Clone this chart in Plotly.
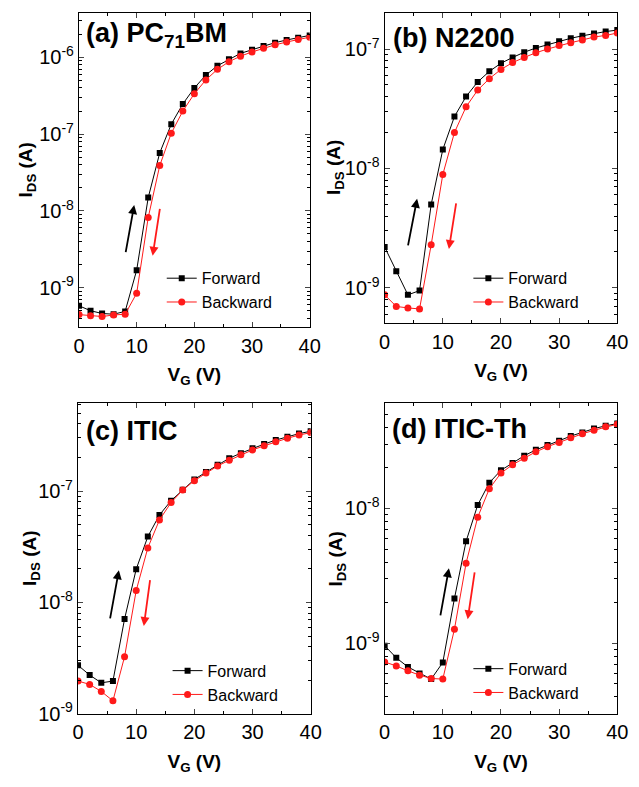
import plotly.graph_objects as go

VG = [0, 2, 4, 6, 8, 10, 12, 14, 16, 18, 20, 22, 24, 26, 28, 30, 32, 34, 36, 38, 40]

a_fwd = [5.8e-10, 5.0e-10, 4.6e-10, 4.5e-10, 4.9e-10, 1.69e-9, 1.49e-8, 5.7e-8, 1.35e-7, 2.48e-7,
         4.0e-7, 5.9e-7, 7.8e-7, 9.5e-7, 1.13e-6, 1.26e-6, 1.41e-6, 1.56e-6, 1.69e-6, 1.81e-6, 1.94e-6]
a_bwd = [4.45e-10, 4.3e-10, 4.2e-10, 4.4e-10, 4.5e-10, 8.45e-10, 8.2e-9, 3.9e-8, 1.03e-7, 2.0e-7,
         3.37e-7, 5.1e-7, 7.0e-7, 8.8e-7, 1.04e-6, 1.18e-6, 1.32e-6, 1.46e-6, 1.59e-6, 1.72e-6, 1.84e-6]

b_fwd = [2.2e-9, 1.38e-9, 8.75e-10, 9.5e-10, 5.0e-9, 1.44e-8, 2.72e-8, 4.0e-8, 5.3e-8, 6.5e-8,
         7.6e-8, 8.5e-8, 9.4e-8, 1.02e-7, 1.09e-7, 1.16e-7, 1.23e-7, 1.29e-7, 1.35e-7, 1.40e-7, 1.44e-7]
b_bwd = [8.75e-10, 7.0e-10, 6.8e-10, 6.67e-10, 2.3e-9, 8.9e-9, 2.0e-8, 3.28e-8, 4.53e-8, 5.65e-8,
         6.75e-8, 7.7e-8, 8.5e-8, 9.3e-8, 1.0e-7, 1.07e-7, 1.13e-7, 1.19e-7, 1.26e-7, 1.30e-7, 1.36e-7]

c_fwd = [2.73e-9, 2.23e-9, 1.9e-9, 1.97e-9, 7.1e-9, 1.99e-8, 3.9e-8, 6.1e-8, 8.2e-8, 1.03e-7,
         1.27e-7, 1.48e-7, 1.72e-7, 1.97e-7, 2.19e-7, 2.42e-7, 2.64e-7, 2.87e-7, 3.07e-7, 3.28e-7, 3.44e-7]
c_bwd = [1.97e-9, 1.84e-9, 1.59e-9, 1.31e-9, 3.26e-9, 1.28e-8, 3.09e-8, 5.5e-8, 7.9e-8, 1.02e-7,
         1.24e-7, 1.45e-7, 1.68e-7, 1.89e-7, 2.12e-7, 2.34e-7, 2.55e-7, 2.77e-7, 2.98e-7, 3.18e-7, 3.35e-7]

d_fwd = [9.6e-10, 7.8e-10, 6.67e-10, 5.97e-10, 5.42e-10, 7.2e-10, 2.15e-9, 5.7e-9, 1.06e-8, 1.55e-8,
         1.92e-8, 2.17e-8, 2.46e-8, 2.72e-8, 2.96e-8, 3.18e-8, 3.44e-8, 3.66e-8, 3.91e-8, 4.1e-8, 4.26e-8]
d_bwd = [7.26e-10, 6.79e-10, 6.24e-10, 5.8e-10, 5.48e-10, 5.42e-10, 1.27e-9, 3.92e-9, 8.6e-9, 1.4e-8,
         1.83e-8, 2.11e-8, 2.36e-8, 2.63e-8, 2.87e-8, 3.09e-8, 3.34e-8, 3.58e-8, 3.8e-8, 4.03e-8, 4.22e-8]

panel_titles = ["(a) PC<sub>71</sub>BM", "(b) N2200", "(c) ITIC", "(d) ITIC-Th"]
x_ticks = [0, 10, 20, 30, 40]
y_exps = [-9, -8, -7, -6]

W, H = 639, 787
# pixel boxes of plot areas: (left, right, top, bottom)
boxes = [(75, 312, 13, 332), (389, 628, 13, 328), (74, 313, 409, 724), (389, 628, 409, 724)]
yranges = [(-9.518, -5.418), (-9.297, -6.697), (-9.0, -6.212), (-9.524, -7.22)]
legend_pos = [(160, 265), (475, 265), (166, 663), (475, 661)]
title_pos = [(80, 35), (396, 39), (80, 437), (395, 435)]
ytitle_x = [22, 338, 25, 340]
# arrows: (tail_x, tail_logy, tip_x, tip_logy)
black_arrows = [(8.05, -8.558, 9.57, -7.923), (3.97, -8.656, 5.58, -8.253),
                (5.47, -8.156, 7.02, -7.711), (9.54, -8.805, 11.05, -8.444)]
red_arrows = [(14.06, -7.953, 12.77, -8.584), (12.33, -8.28, 11.05, -8.674),
              (12.42, -7.785, 11.31, -8.212), (15.51, -8.463, 14.28, -8.822)]

data = [(a_fwd, a_bwd), (b_fwd, b_bwd), (c_fwd, c_bwd), (d_fwd, d_bwd)]

FONT = "Liberation Sans, Arial, sans-serif"
fig = go.Figure()
layout = dict(width=W, height=H, margin=dict(l=0, r=0, t=0, b=0),
              paper_bgcolor="white", plot_bgcolor="white",
              font=dict(family=FONT, size=16, color="black"), showlegend=True)
annotations = []

minor_vals = [m * 10 ** e for e in range(-10, -4) for m in range(2, 10)]

for i in range(4):
    n = "" if i == 0 else str(i + 1)
    l, r, t, b = boxes[i]
    xd = [l / W, r / W]
    yd = [1 - b / H, 1 - t / H]
    fwd, bwd = data[i]
    lg = "legend" if i == 0 else "legend" + str(i + 1)
    fig.add_trace(go.Scatter(x=VG, y=fwd, mode="lines+markers", name="Forward",
                             line=dict(color="black", width=1),
                             marker=dict(symbol="square", size=6, color="black"),
                             xaxis="x" + n, yaxis="y" + n, legend=lg))
    fig.add_trace(go.Scatter(x=VG, y=bwd, mode="lines+markers", name="Backward",
                             line=dict(color="#ff1a1a", width=1),
                             marker=dict(symbol="circle", size=7, color="#ff1a1a"),
                             xaxis="x" + n, yaxis="y" + n, legend=lg))
    layout["xaxis" + n] = dict(domain=xd, anchor="y" + n, range=[0, 40],
                               tickvals=x_ticks, ticks="inside", ticklen=5, tickwidth=1,
                               showline=True, linecolor="black", linewidth=1.3, mirror="allticks",
                               showgrid=False, zeroline=False,
                               minor=dict(tickvals=[5, 15, 25, 35], ticks="inside", ticklen=3,
                                          tickcolor="black", showgrid=False),
                               tickfont=dict(size=20),
                               title=dict(text="<b>V<sub>G</sub> (V)</b>", font=dict(size=19), standoff=12))
    layout["yaxis" + n] = dict(domain=yd, anchor="x" + n, type="log", range=list(yranges[i]),
                               tickvals=[10 ** e for e in y_exps],
                               ticktext=["10<sup>%d</sup>" % e for e in y_exps],
                               ticks="inside", ticklen=5, tickwidth=1,
                               showline=True, linecolor="black", linewidth=1.3, mirror="allticks",
                               showgrid=False, zeroline=False,
                               minor=dict(tickvals=minor_vals, ticks="inside", ticklen=3,
                                          tickcolor="black", showgrid=False),
                               tickfont=dict(size=20), title=None)
    layout[lg] = dict(x=legend_pos[i][0] / W, y=1 - legend_pos[i][1] / H,
                      xanchor="left", yanchor="top", bgcolor="rgba(0,0,0,0)",
                      font=dict(size=16), tracegroupgap=0, itemsizing="trace")
    annotations.append(dict(text="<b>" + panel_titles[i] + "</b>", xref="paper", yref="paper",
                            x=title_pos[i][0] / W, y=1 - title_pos[i][1] / H,
                            xanchor="left", yanchor="middle", showarrow=False,
                            font=dict(size=27)))
    annotations.append(dict(text="<b>I<sub>DS</sub> (A)</b>", xref="paper", yref="paper",
                            x=ytitle_x[i] / W, y=(yd[0] + yd[1]) / 2, textangle=-90,
                            xanchor="center", yanchor="middle", showarrow=False,
                            font=dict(size=19)))
    for arr, col in ((black_arrows[i], "black"), (red_arrows[i], "#ff1a1a")):
        annotations.append(dict(x=arr[2], y=arr[3], ax=arr[0], ay=arr[1],
                                xref="x" + n, yref="y" + n, axref="x" + n, ayref="y" + n,
                                text="", showarrow=True, arrowhead=2, arrowsize=1,
                                arrowwidth=1.8, arrowcolor=col))

layout["annotations"] = annotations
fig.update_layout(**layout)
fig.write_html("out.html")
